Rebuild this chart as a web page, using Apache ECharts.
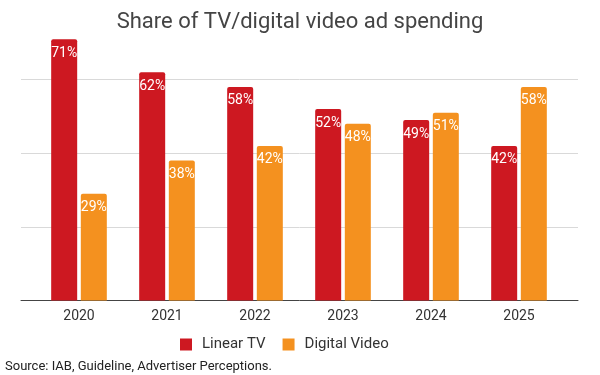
<!DOCTYPE html>
<html>
<head>
<meta charset="utf-8">
<script src="https://cdn.jsdelivr.net/npm/echarts@6/dist/echarts.min.js"></script>
<style>
html,body{margin:0;padding:0;background:#fff;}
#chart{width:600px;height:375px;}
</style>
</head>
<body>
<div id="chart"></div>
<script>
const years = ['2020', '2021', '2022', '2023', '2024', '2025'];
const linearTV = [71, 62, 58, 52, 49, 42];
const digitalVideo = [29, 38, 42, 48, 51, 58];
const seriesNames = ['Linear TV', 'Digital Video'];
const titleText = 'Share of TV/digital video ad spending';
const sourceText = 'Source: IAB, Guideline, Advertiser Perceptions.';

const RED = '#cd1821';
const ORANGE = '#f4911f';
const FONT = 'Roboto, "Noto Sans", sans-serif';

const chart = echarts.init(document.getElementById('chart'), null, {renderer: 'canvas'});

const labelCfg = {
  show: true,
  position: 'insideTop',
  distance: 7,
  color: '#fff',
  fontSize: 14,
  fontFamily: FONT,
  formatter: p => p.value + '%'
};

chart.setOption({
  animation: false,
  textStyle: {fontFamily: FONT},
  title: {
    text: titleText,
    left: 'center',
    top: 6,
    textStyle: {fontSize: 22, fontWeight: 'normal', color: '#444', fontFamily: FONT}
  },
  legend: {
    data: seriesNames,
    left: 180,
    top: 337,
    padding: 0,
    icon: 'rect',
    itemWidth: 12,
    itemHeight: 12,
    itemGap: 17,
    textStyle: {fontSize: 15, color: '#333', fontFamily: FONT, padding: [0, 0, 0, 5]}
  },
  graphic: [{
    type: 'text',
    left: 5,
    top: 360,
    style: {text: sourceText, fontSize: 13, fill: '#222', fontFamily: FONT}
  }],
  grid: [
    {left: 35, width: 528, top: 6, bottom: 74.5},
    {left: 21, right: 22, top: 6, bottom: 74.5}
  ],
  xAxis: [
    {
      type: 'category', gridIndex: 0, data: years,
      axisLine: {show: false}, axisTick: {show: false},
      axisLabel: {fontSize: 14, color: '#333', margin: 9, fontFamily: FONT}
    },
    {
      type: 'value', gridIndex: 1, min: 0, max: 1,
      axisLine: {show: true, onZero: false, lineStyle: {color: '#444', width: 1}},
      axisTick: {show: false}, axisLabel: {show: false}, splitLine: {show: false}
    }
  ],
  yAxis: [
    {type: 'value', gridIndex: 0, min: 0, max: 80, interval: 20, show: false},
    {
      type: 'value', gridIndex: 1, min: 0, max: 80, interval: 20,
      axisLine: {show: false}, axisTick: {show: false}, axisLabel: {show: false},
      splitLine: {show: true, showMaxLine: false, lineStyle: {color: '#d9d9d9', width: 1}}
    }
  ],
  series: [
    {
      name: seriesNames[0], type: 'bar', xAxisIndex: 0, yAxisIndex: 0,
      data: linearTV, barWidth: 26, barGap: '14%',
      itemStyle: {color: RED, borderRadius: [2, 2, 0, 0]},
      label: labelCfg, z: 3
    },
    {
      name: seriesNames[1], type: 'bar', xAxisIndex: 0, yAxisIndex: 0,
      data: digitalVideo, barWidth: 26, barGap: '14%',
      itemStyle: {color: ORANGE, borderRadius: [2, 2, 0, 0]},
      label: labelCfg, z: 3
    }
  ]
});
</script>
</body>
</html>
